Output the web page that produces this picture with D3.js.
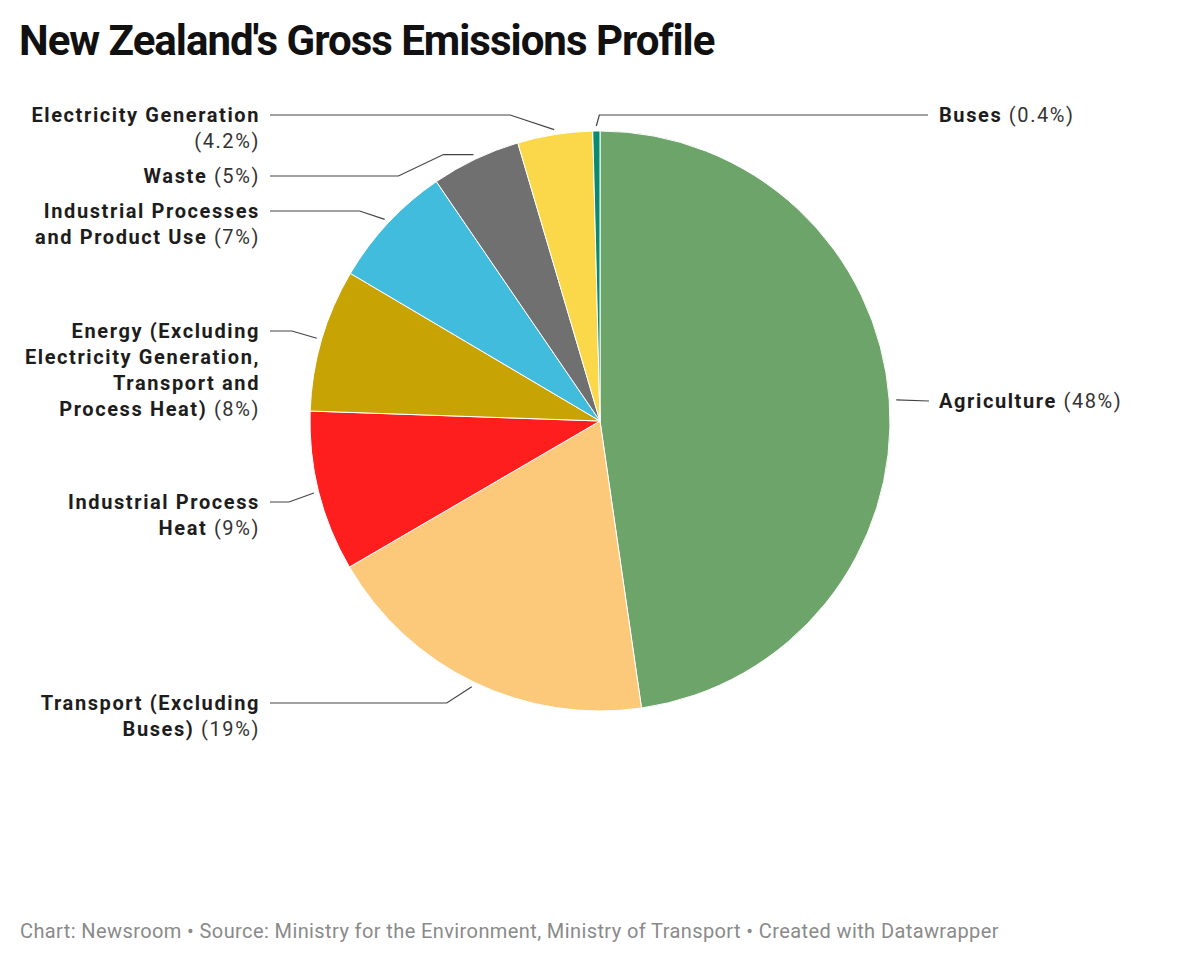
<!DOCTYPE html>
<html>
<head>
<meta charset="utf-8">
<script src="https://cdn.jsdelivr.net/npm/d3@7"></script>
<style>
    body { margin: 0; background: #fff; }
    text { font-family: Roboto, "Noto Sans", sans-serif; }
</style>
</head>
<body>
<script>
// data, clockwise from 12 o'clock
const categories = [
    "Agriculture",
    "Transport (Excluding Buses)",
    "Industrial Process Heat",
    "Energy (Excluding Electricity Generation, Transport and Process Heat)",
    "Industrial Processes and Product Use",
    "Waste",
    "Electricity Generation",
    "Buses",
];
const values = [48, 19, 9, 8, 7, 5, 4.2, 0.4];
const colors = ["#6ca46a", "#fcc97a", "#fe1e1e", "#c8a304", "#42bcdc", "#707070", "#fbd84a", "#0a8a6e"];

// how the label text breaks into lines ("|" = line break)
const labelLines = [
    "Agriculture",
    "Transport (Excluding|Buses)",
    "Industrial Process|Heat",
    "Energy (Excluding|Electricity Generation,|Transport and|Process Heat)",
    "Industrial Processes|and Product Use",
    "Waste",
    "Electricity Generation|",
    "Buses",
];
// y of the first label line (where the connector meets it)
const labelY = [401, 703, 502, 331, 211, 176, 115, 115];

const width = 1200, height = 963;
const cx = 600, cy = 421, r = 290;

const svg = d3.select("body").append("svg").attr("width", width).attr("height", height);

// title
svg.append("text")
    .attr("x", 19).attr("y", 55)
    .attr("font-size", 42).attr("font-weight", 700)
    .attr("fill", "#111")
    .attr("letter-spacing", -1)
    .text("New Zealand's Gross Emissions Profile");

// footer
svg.append("text")
    .attr("x", 20).attr("y", 938)
    .attr("font-size", 20).attr("fill", "#8a8a8a")
    .attr("letter-spacing", 0.4)
    .text("Chart: Newsroom \u2022 Source: Ministry for the Environment, Ministry of Transport \u2022 Created with Datawrapper");

const data = categories.map((c, i) => ({ name: c, value: values[i], color: colors[i], lines: labelLines[i].split("|"), ly: labelY[i] }));

const pie = d3.pie().sort(null).value((d) => d.value);
const arcs = pie(data);
const arc = d3.arc().innerRadius(0).outerRadius(r);

const g = svg.append("g").attr("transform", `translate(${cx},${cy})`);

g.selectAll("path.slice")
    .data(arcs)
    .enter()
    .append("path")
    .attr("class", "slice")
    .attr("d", arc)
    .attr("fill", (d) => d.data.color)
    .attr("stroke", "#fff")
    .attr("stroke-width", 1);

// connectors + labels
const leftTextX = 260, rightTextX = 939;
const outer = r + 5;

arcs.forEach((a) => {
    const mid = (a.startAngle + a.endAngle) / 2;
    const sx = cx + Math.sin(mid) * outer;
    const sy = cy - Math.cos(mid) * outer;
    const right = Math.sin(mid) > 0 || mid > 2 * Math.PI - 0.02;
    const ly = a.data.ly;
    const dy = Math.abs(ly - sy);
    let pts;
    if (right) {
        // buses (top) and agriculture (right)
        if (dy > 5) pts = [[sx, sy], [sx + 3, ly], [rightTextX - 11, ly]];
        else pts = [[sx + 2, sy], [rightTextX - 10, ly]];
    } else {
        if (dy > 18) {
            // long drop: short horizontal run first, then diagonal
            pts = [[sx, sy], [sx - 30, sy], [sx - 75, ly], [leftTextX + 10, ly]];
        } else {
            const run = sy > ly && dy > 12 ? 44 : 25;
            pts = [[sx, sy], [sx - run, ly], [leftTextX + 10, ly]];
        }
    }
    svg.append("path")
        .attr("d", d3.line()(pts))
        .attr("fill", "none")
        .attr("stroke", "#444")
        .attr("stroke-width", 1.2);

    const t = svg.append("text")
        .attr("x", right ? rightTextX : leftTextX)
        .attr("y", ly)
        .attr("text-anchor", right ? "start" : "end")
        .attr("font-size", 20)
        .attr("letter-spacing", 1.6)
        .attr("fill", "#1d1d1d");

    const lines = a.data.lines;
    lines.forEach((ln, i) => {
        const last = i === lines.length - 1;
        const ts = t.append("tspan")
            .attr("x", right ? rightTextX : leftTextX)
            .attr("dy", i === 0 ? "0.36em" : 26);
        if (ln) ts.append("tspan").attr("font-weight", 700).text(ln);
        if (last) {
            ts.append("tspan")
                .attr("fill", "#333")
                .attr("font-weight", 400)
                .text((ln ? " " : "") + `(${a.data.value}%)`);
        }
    });
});
</script>
</body>
</html>
